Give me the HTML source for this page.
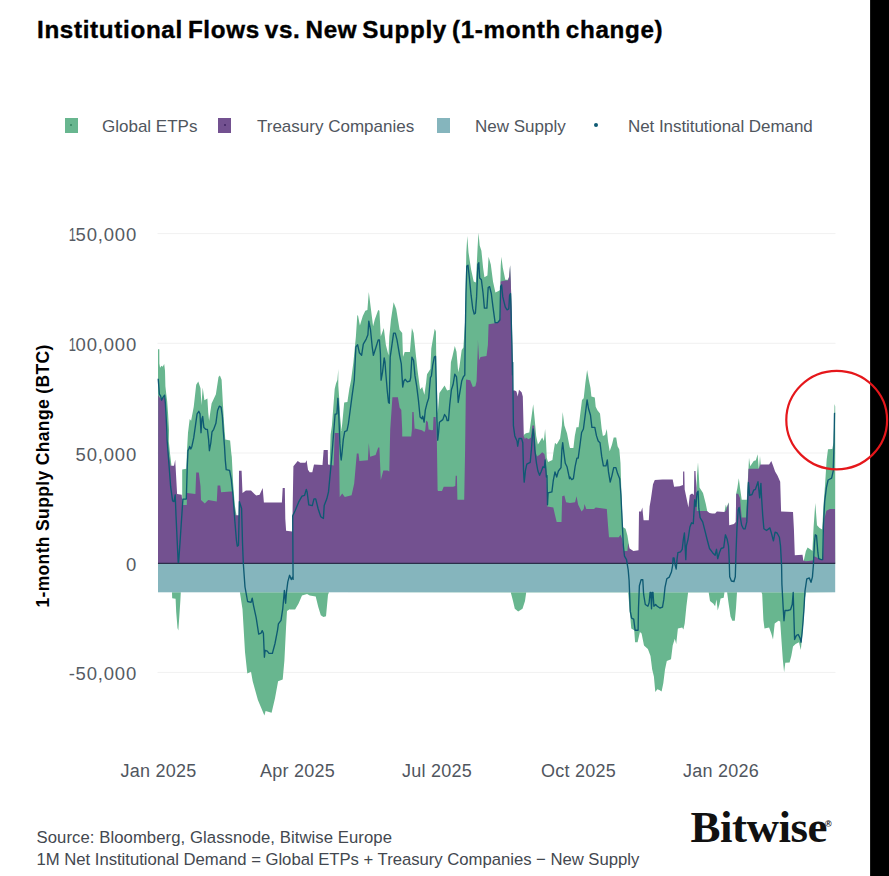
<!DOCTYPE html>
<html><head><meta charset="utf-8"><title>Institutional Flows vs. New Supply</title>
<style>
html,body{margin:0;padding:0;background:#fff;}
body{width:889px;height:876px;position:relative;overflow:hidden;font-family:"Liberation Sans",sans-serif;}
.t{position:absolute;white-space:nowrap;line-height:1;}
.title{left:37px;top:17.7px;font-size:24.2px;font-weight:bold;color:#000;letter-spacing:0.68px;word-spacing:-2.4px;-webkit-text-stroke:0.4px #000;}
.leg{font-size:17px;color:#50565e;top:117.5px;letter-spacing:0px;}
.sw{position:absolute;top:118px;width:13px;height:15px;}
.yl{font-size:18.5px;color:#555b63;text-align:right;width:120px;left:17.0px;letter-spacing:0.8px;}
.yl span{display:inline-block;transform:scaleX(0.7);margin-left:-2px;margin-right:-2.2px;}
.xl{font-size:18px;color:#50565e;top:762px;width:120px;text-align:center;letter-spacing:0.25px;}
.src{font-size:16.7px;color:#43484f;left:36.5px;letter-spacing:0px;}
.ytitle{left:43.8px;top:475.5px;font-size:17.5px;font-weight:bold;color:#000;transform:translate(-50%,-50%) rotate(-90deg);letter-spacing:0.35px;}
.logo{left:690.5px;top:804.8px;font-family:"Liberation Serif",serif;font-weight:bold;font-size:45px;color:#111;letter-spacing:-0.5px;}
.reg{left:825px;top:819.5px;font-size:9px;color:#111;font-weight:bold;}
</style></head><body>
<svg width="889" height="876" viewBox="0 0 889 876" style="position:absolute;left:0;top:0">
<line x1="157.5" y1="233.6" x2="835.5" y2="233.6" stroke="#f1f1f1" stroke-width="1"/>
<line x1="157.5" y1="343.3" x2="835.5" y2="343.3" stroke="#f1f1f1" stroke-width="1"/>
<line x1="157.5" y1="453.0" x2="835.5" y2="453.0" stroke="#f1f1f1" stroke-width="1"/>
<line x1="157.5" y1="563.3" x2="835.5" y2="563.3" stroke="#f1f1f1" stroke-width="1"/>
<line x1="157.5" y1="672.4" x2="835.5" y2="672.4" stroke="#f1f1f1" stroke-width="1"/>
<polygon points="158.0,563.3 158.0,349.2 159.3,349.2 159.4,363.6 160.1,367.7 161.4,365.7 162.7,366.7 164.2,364.1 165.0,370.8 165.4,386.2 166.2,393.4 167.2,401.6 168.1,414.0 169.0,430.0 168.8,441.3 170.0,453.3 171.4,465.3 171.4,563.3" fill="#68b68f"/>
<polygon points="182.2,563.3 182.2,469.6 186.3,468.7 187.0,449.9 188.0,432.7 189.7,419.0 191.1,420.8 193.7,407.1 196.2,384.8 198.3,381.4 200.5,388.2 201.4,405.3 202.7,387.4 204.4,400.2 207.4,398.5 208.2,412.2 209.1,420.8 210.3,412.2 211.6,403.6 215.9,394.2 218.5,377.1 219.9,375.4 221.6,379.7 222.8,401.9 224.0,422.5 225.3,439.6 230.1,440.4 231.3,453.3 231.8,457.1 233.1,482.8 234.8,505.1 236.5,515.3 236.5,563.3" fill="#68b68f"/>
<polygon points="329.7,563.3 329.7,464.5 330.6,434.8 331.9,425.7 334.7,389.1 336.0,383.6 337.4,380.0 338.3,369.0 338.3,385.5 339.2,398.3 340.1,416.5 341.5,431.1 342.9,416.5 344.2,402.4 347.4,401.9 349.3,389.1 351.1,380.0 353.4,362.2 355.9,336.5 357.3,315.1 358.1,316.0 359.9,325.4 362.8,316.0 365.3,310.8 367.4,310.0 368.8,292.0 370.5,305.7 373.1,326.2 374.8,319.4 378.2,310.0 379.4,310.8 380.8,336.5 383.8,327.9 385.9,345.1 388.5,355.3 389.3,336.5 391.0,319.4 393.6,302.3 396.2,309.1 399.6,329.7 402.2,333.1 403.0,357.1 404.7,351.9 409.9,351.9 411.9,327.9 413.6,333.1 415.9,355.3 417.6,370.8 420.1,389.6 422.2,387.0 424.4,394.7 426.1,382.7 427.0,374.2 430.4,369.0 431.3,348.5 434.7,328.8 435.9,331.4 436.5,374.2 437.2,394.8 437.7,413.6 439.4,393.1 444.6,385.4 447.1,390.5 449.7,389.7 450.9,362.3 452.3,357.1 454.8,346.0 456.5,351.7 458.2,372.3 459.4,367.1 461.7,350.0 463.4,347.4 465.1,320.9 466.3,252.4 467.3,236.1 468.5,252.4 471.1,269.5 473.7,281.5 475.9,282.4 477.6,247.3 478.5,232.7 479.7,245.6 481.4,250.7 483.1,267.8 484.4,277.2 487.4,275.5 488.6,256.7 490.8,264.4 493.0,281.5 495.4,292.6 498.5,290.9 500.2,290.1 500.7,266.1 501.4,256.7 502.8,267.8 505.3,279.8 507.9,279.8 509.1,276.4 510.1,265.2 510.8,281.5 511.9,319.2 512.5,375.0 512.5,563.3" fill="#68b68f"/>
<polygon points="523.5,563.3 523.5,435.9 523.8,435.0 525.9,433.3 529.3,432.5 531.0,420.5 533.2,404.2 534.8,420.5 536.2,435.9 537.9,444.4 539.6,441.9 542.2,437.6 543.9,441.0 545.1,429.0 546.1,442.7 546.8,458.1 548.1,461.9 552.4,459.9 553.6,451.3 555.0,442.7 556.7,444.4 560.1,438.5 561.9,425.6 562.7,411.9 564.4,425.6 567.0,433.3 569.5,446.2 570.0,447.9 573.4,447.9 574.8,435.9 576.5,427.3 578.6,427.3 580.3,413.6 582.0,399.9 583.7,398.2 585.4,382.8 587.1,370.0 588.8,379.4 590.5,387.9 591.4,396.5 594.8,397.4 595.7,406.8 597.4,410.2 600.0,413.6 601.7,429.0 602.9,435.9 605.1,435.0 606.8,429.0 608.0,441.0 609.7,451.3 612.0,444.4 613.7,437.6 616.2,437.6 617.6,446.2 619.3,449.6 620.5,463.3 621.4,492.8 622.7,527.0 625.6,528.8 627.4,535.6 629.1,545.9 629.1,563.3" fill="#68b68f"/>
<polygon points="696.4,563.3 696.4,492.8 697.0,475.7 698.0,462.3 698.8,475.7 699.5,487.5 703.0,493.0 705.8,503.9 707.2,511.0 707.2,563.3" fill="#68b68f"/>
<polygon points="724.5,563.3 724.5,512.0 725.8,504.8 726.8,507.4 728.5,502.2 728.8,504.8 728.8,563.3" fill="#68b68f"/>
<polygon points="736.2,563.3 736.2,493.7 737.4,487.7 738.8,478.2 740.0,487.7 741.7,499.7 746.8,499.7 747.7,482.5 748.5,468.8 749.0,457.7 750.2,466.3 753.7,461.1 755.9,460.3 757.6,454.3 758.8,468.8 759.3,464.6 760.0,456.0 760.7,464.6 760.7,563.3" fill="#68b68f"/>
<polygon points="803.8,563.3 803.8,560.5 805.9,551.0 807.6,547.6 810.2,549.3 812.4,551.0 813.6,527.0 815.3,503.1 817.0,525.3 819.6,527.9 822.2,529.6 823.4,506.5 825.1,484.2 826.4,463.7 826.7,459.6 828.0,449.3 832.3,449.0 833.5,442.5 834.2,421.9 834.5,403.9 835.2,406.5 835.2,563.3" fill="#68b68f"/>
<polygon points="158.0,592.3 158.0,592.3 172.0,592.3 172.2,598.3 175.6,598.8 176.2,612.0 177.5,628.0 178.3,630.6 179.2,618.0 180.4,600.0 180.8,592.3 239.9,592.3 242.5,609.2 245.0,652.0 247.3,673.5 251.0,671.8 252.7,681.2 257.9,700.0 264.4,715.4 265.6,711.1 271.6,712.8 275.0,698.3 278.1,681.2 282.7,679.5 284.4,660.6 286.1,626.4 287.0,611.0 289.6,609.2 290.0,609.4 295.1,609.4 298.6,603.4 302.0,595.6 307.1,593.9 309.7,595.6 315.7,596.5 318.2,606.8 320.8,615.3 323.4,617.0 326.0,616.2 328.0,594.8 329.0,592.3 510.8,592.5 513.0,601.1 514.8,608.8 518.2,611.4 522.5,608.8 525.0,601.1 526.2,592.5 628.2,592.5 629.6,609.7 631.3,628.5 634.2,630.2 635.1,642.2 637.6,642.2 639.9,631.9 641.6,633.6 644.0,645.6 647.9,649.0 650.5,655.9 652.2,669.6 653.9,676.4 655.3,691.9 657.3,689.3 659.4,690.1 661.6,691.5 663.3,683.3 665.0,669.6 666.8,661.0 671.0,659.3 672.7,645.6 674.8,638.8 676.2,643.9 677.9,628.5 682.2,627.6 683.4,629.4 684.7,623.4 686.4,606.2 688.1,592.5 708.7,592.5 710.0,601.1 713.4,603.7 715.1,606.2 716.5,599.4 717.7,610.5 719.4,604.5 720.6,598.5 723.7,597.7 724.5,592.3 727.1,592.3 728.5,602.8 730.5,616.5 732.3,620.8 734.8,620.8 736.0,608.0 737.0,592.3 761.4,592.3 762.2,594.2 763.4,619.9 764.5,628.5 769.1,627.6 771.3,633.6 773.0,639.6 774.7,623.4 778.5,620.8 780.2,621.6 781.6,642.2 782.8,659.3 784.1,672.2 785.3,662.7 789.6,662.4 791.3,655.9 793.0,646.5 795.6,643.9 799.0,642.2 800.8,649.9 802.5,633.6 803.8,616.5 805.0,597.7 805.9,592.5 835.0,592.3 835.2,592.3" fill="#68b68f"/>
<polygon points="158.0,563.3 158.2,395.1 160.3,398.5 163.7,397.6 165.1,398.5 165.9,419.0 167.1,443.0 168.0,450.3 170.6,465.7 174.0,465.7 175.2,459.7 176.0,474.2 177.1,493.9 181.7,494.8 182.5,505.1 186.8,505.1 187.0,493.1 195.4,493.9 196.2,472.5 198.8,472.5 200.5,486.2 201.0,499.9 204.8,503.4 208.2,499.9 216.8,501.6 217.6,485.4 220.2,485.4 221.1,492.2 230.5,491.4 232.2,491.4 233.9,505.1 235.6,515.3 238.7,515.3 239.0,470.8 241.6,470.8 242.5,493.1 245.9,490.5 251.0,490.5 256.2,495.6 259.6,494.8 262.7,487.9 263.9,502.5 281.9,502.5 282.7,487.9 284.8,487.9 285.3,518.8 286.1,530.8 292.1,531.6 292.2,532.2 293.4,466.2 297.7,461.1 300.3,462.8 305.4,462.8 306.6,460.2 308.0,469.7 309.7,472.2 312.3,472.2 314.0,464.5 322.5,464.9 323.6,450.8 323.7,449.9 327.8,449.9 328.0,464.5 333.7,465.4 334.7,433.0 338.8,433.0 339.7,497.1 342.2,493.6 344.8,497.1 351.6,495.3 354.2,483.4 356.8,453.4 358.5,453.4 359.4,461.1 367.9,460.2 368.8,443.1 370.1,456.8 375.6,455.1 378.2,447.4 379.4,447.4 380.8,479.9 383.3,470.5 387.6,470.5 389.3,471.4 390.2,429.9 392.4,397.3 397.9,397.3 399.6,407.6 401.3,410.1 402.2,430.0 402.2,436.6 411.2,436.6 411.9,429.9 412.3,411.9 413.6,411.9 414.7,430.0 415.0,428.6 421.9,430.3 424.4,432.0 425.3,429.9 426.1,420.4 427.8,422.1 428.7,430.0 429.0,429.4 431.8,430.3 433.0,429.9 433.5,417.0 435.6,417.0 436.4,430.0 436.8,437.1 437.6,490.2 438.2,491.1 442.0,491.1 443.7,486.8 453.1,486.8 455.3,486.0 455.7,475.7 456.9,475.7 457.4,499.7 464.2,499.7 465.1,450.0 466.0,379.4 470.2,380.2 472.8,387.1 475.4,386.2 476.6,381.1 477.9,345.1 477.9,339.7 479.1,360.3 480.5,356.9 486.5,356.0 487.9,344.9 488.6,324.3 493.4,323.5 497.6,322.6 500.2,318.3 500.7,281.5 505.3,280.6 507.9,280.6 509.1,277.2 510.1,265.2 510.8,281.5 511.9,319.2 512.5,375.0 512.7,362.3 513.0,390.5 514.8,390.5 516.5,391.4 517.7,396.5 519.0,389.7 521.6,392.2 522.8,396.5 523.8,435.9 525.0,439.3 525.9,437.6 528.5,439.3 531.0,437.6 532.4,425.6 534.1,425.6 534.8,435.9 535.8,453.0 537.0,456.4 539.6,454.7 542.2,452.2 544.4,453.9 545.6,459.9 546.4,470.1 547.3,506.5 553.3,507.4 555.0,515.1 556.7,521.9 561.5,521.9 562.2,496.2 564.4,495.4 566.1,502.2 570.0,503.1 575.1,502.2 576.5,496.2 578.2,504.8 581.6,511.6 583.7,509.1 584.5,503.9 586.3,509.1 594.0,509.1 595.7,507.4 606.8,509.1 608.0,525.3 609.0,537.3 618.8,537.3 620.5,534.8 622.2,539.0 623.9,551.0 627.4,551.0 628.2,543.3 629.6,548.5 633.4,551.0 638.5,550.2 639.0,511.6 641.1,511.6 642.3,507.4 643.6,520.2 648.8,520.2 649.6,506.5 650.8,499.7 653.0,484.2 654.8,480.0 662.5,479.4 672.7,479.4 674.1,486.8 679.6,486.3 683.0,485.1 683.1,471.6 684.3,471.6 684.7,489.4 687.5,503.1 688.4,507.5 689.8,494.9 692.1,493.5 693.9,494.9 694.3,471.1 695.5,471.1 695.9,479.3 696.6,487.5 696.9,511.1 707.0,511.1 709.5,513.0 712.1,513.4 715.1,513.4 716.9,511.6 724.5,512.0 726.3,509.9 728.5,503.1 729.2,525.3 734.0,524.0 735.7,521.9 736.2,493.7 738.2,493.7 740.0,497.9 741.7,517.6 746.0,517.6 747.3,496.2 748.5,468.8 758.8,468.8 760.5,464.6 769.1,464.6 771.3,461.1 773.0,465.4 775.1,471.4 777.6,475.7 780.2,481.7 781.1,511.6 793.0,512.0 793.9,528.8 794.8,555.3 802.5,554.8 803.3,560.5 805.9,561.3 812.7,560.5 814.1,556.2 821.3,559.6 823.0,559.6 824.4,518.5 826.4,510.8 829.9,509.1 835.0,509.1 835.2,563.3" fill="#735190"/>
<rect x="158.0" y="563.3" width="677.2" height="29.0" fill="#85b5bd"/>
<line x1="158.0" y1="563.3" x2="835.2" y2="563.3" stroke="#2b2f4a" stroke-width="1.2"/>
<polyline points="158.2,378.8 159.4,394.2 160.6,395.9 161.6,400.2 162.8,397.6 164.6,395.1 165.4,403.6 166.6,425.9 167.1,440.0 168.8,462.3 170.6,486.2 172.6,500.8 174.0,501.6 175.2,494.8 176.0,515.3 177.1,539.3 178.2,562.4 178.6,562.4 180.0,542.7 181.7,517.0 182.9,499.1 186.3,499.1 187.3,465.7 188.0,450.3 188.5,449.9 189.7,446.4 190.8,449.0 191.9,446.4 193.7,437.9 195.4,425.9 197.1,413.9 198.8,411.3 200.0,413.9 201.0,432.7 201.9,419.0 202.7,416.5 203.9,427.6 205.7,429.3 207.4,429.3 208.6,439.6 209.4,450.7 210.8,443.0 212.0,431.9 213.7,429.3 215.9,423.3 217.6,410.5 219.3,406.2 221.1,407.1 222.3,415.6 223.3,431.0 224.5,446.4 225.3,460.1 226.2,469.6 229.6,470.4 231.3,479.4 233.1,496.5 234.8,520.5 236.5,541.0 237.3,546.2 238.5,545.3 239.4,501.6 241.6,508.5 242.5,542.7 243.3,563.3 245.0,587.0 247.6,601.5 251.0,602.4 252.2,598.1 253.6,605.8 256.2,617.8 258.7,634.1 261.0,633.2 262.2,630.6 263.4,633.2 264.4,657.2 265.1,650.3 267.3,651.2 269.0,653.4 272.4,653.4 275.0,643.5 277.6,629.8 278.4,623.8 281.0,620.4 282.7,609.2 284.4,590.4 285.6,603.2 286.5,592.1 287.8,581.9 289.6,575.3 291.3,579.5 292.5,577.0 293.1,579.4 292.7,515.9 295.1,510.8 298.6,502.2 302.0,496.2 304.6,495.3 306.3,489.4 307.1,491.9 308.8,504.8 312.3,505.6 314.0,498.8 315.7,498.8 318.2,509.0 320.8,516.8 323.4,518.5 324.2,505.6 326.8,498.8 328.5,491.9 331.5,460.0 332.8,443.9 334.2,425.7 335.1,414.2 336.9,413.8 337.9,398.3 338.5,407.4 339.2,425.7 339.9,443.9 340.6,454.9 341.2,460.0 342.0,453.1 343.3,439.4 344.7,431.6 347.0,430.7 348.4,423.8 350.2,410.1 352.0,396.4 354.3,380.0 355.9,346.8 357.6,344.7 359.4,352.8 361.6,355.3 363.3,344.2 366.2,339.1 367.9,334.8 368.8,321.1 370.5,329.7 372.2,346.8 373.4,355.3 375.6,348.5 378.2,339.9 379.4,339.9 380.4,353.6 381.1,380.2 382.5,372.5 384.2,357.9 385.0,362.2 385.9,374.2 387.3,391.3 388.5,402.4 389.3,403.3 390.2,357.1 391.9,345.1 393.6,333.1 395.3,333.1 397.0,339.9 399.6,355.3 401.3,363.9 402.7,387.0 403.9,381.0 405.1,379.3 407.3,381.9 409.9,381.0 410.7,377.6 411.9,357.1 413.6,360.5 415.0,375.9 416.7,386.2 418.4,399.9 420.1,417.0 421.9,418.7 422.7,416.1 424.1,422.1 425.3,410.1 427.0,403.3 428.7,398.1 430.4,377.6 431.4,376.0 432.6,365.7 434.3,357.1 435.5,356.3 436.2,382.8 436.9,418.8 437.7,440.2 438.6,432.5 439.4,422.2 442.8,419.6 444.6,414.5 446.3,417.1 447.1,420.5 448.5,420.5 449.7,405.1 451.4,389.7 453.1,384.5 454.8,374.2 456.5,376.8 457.4,387.9 458.2,402.5 460.0,391.4 461.7,381.1 463.4,376.8 464.8,375.1 465.1,344.9 466.0,293.5 466.8,266.1 468.0,265.2 469.4,278.1 471.1,295.2 472.8,308.9 474.2,314.0 475.4,313.2 476.6,296.9 477.9,264.4 478.8,262.7 479.7,278.1 481.4,279.8 483.1,293.5 484.4,308.1 486.9,308.1 488.2,287.5 489.6,286.6 491.3,293.5 493.0,307.2 495.1,322.6 497.6,322.6 499.9,320.0 500.6,286.6 501.6,284.9 502.8,296.9 505.3,307.2 507.1,309.8 508.8,308.9 509.6,295.2 510.5,293.5 511.0,310.6 511.9,344.9 512.5,375.0 512.7,362.3 513.0,391.4 513.4,425.6 514.8,435.9 517.0,441.0 517.7,446.2 519.0,438.5 521.6,438.5 522.8,442.7 523.5,470.1 524.2,482.1 525.5,470.1 526.8,464.1 530.2,462.4 531.4,449.6 532.4,435.9 533.2,429.0 534.1,437.6 534.8,449.6 536.5,463.3 537.9,471.0 539.6,475.3 541.0,471.9 543.0,466.7 544.4,467.6 545.1,459.9 546.4,477.0 547.0,475.7 547.5,504.8 548.1,492.8 551.9,491.9 553.3,480.4 555.0,471.9 556.7,477.0 558.4,471.0 561.0,467.6 561.9,449.6 562.7,442.7 563.9,453.0 565.3,463.3 567.0,466.7 569.5,478.7 570.0,477.0 571.7,479.6 573.4,478.7 575.1,466.7 576.9,458.1 578.2,458.1 580.3,442.7 581.6,432.5 583.4,429.0 585.4,413.6 587.1,399.9 588.5,408.5 590.5,415.3 591.9,427.3 594.8,427.3 596.5,435.9 598.2,441.0 600.0,442.7 601.7,456.4 603.4,465.9 606.0,465.9 607.3,459.9 608.5,471.9 610.2,482.1 612.0,475.3 613.7,467.6 615.9,467.6 617.6,473.6 619.7,478.7 620.9,494.5 622.2,521.9 623.4,545.9 624.5,556.2 626.5,559.6 628.2,569.9 629.1,580.5 630.3,611.4 631.6,618.2 633.7,619.1 635.1,630.2 638.1,630.2 638.5,608.0 639.4,585.7 641.1,579.7 642.8,579.7 643.6,594.2 645.3,604.5 647.9,606.2 649.1,602.8 650.1,592.5 650.8,592.5 651.5,608.8 652.2,592.5 653.0,592.5 653.9,606.2 655.6,604.5 657.3,606.2 659.9,608.0 662.5,607.1 663.8,599.4 665.0,587.4 666.8,578.8 669.3,577.1 671.4,572.0 672.7,565.1 673.1,557.9 674.1,557.9 674.8,563.9 676.2,569.0 677.0,559.6 677.9,552.7 680.5,551.9 682.2,549.3 683.4,539.0 684.4,533.0 685.1,545.9 685.8,559.6 686.4,545.9 688.1,539.0 689.9,527.0 691.6,522.8 693.3,523.6 694.7,499.7 695.9,506.5 697.0,492.8 698.1,491.1 698.8,508.2 700.1,517.6 702.7,521.9 705.3,532.2 707.0,539.0 709.5,548.5 712.6,552.7 715.1,555.3 716.5,549.3 717.7,558.7 719.4,552.7 721.1,548.5 723.7,547.6 725.4,534.8 727.1,539.0 728.5,545.9 729.2,559.6 729.7,576.7 731.4,581.0 734.0,581.5 735.3,576.7 736.0,552.7 737.0,527.0 738.2,509.9 739.1,507.4 740.5,518.5 741.7,525.3 743.4,528.8 745.1,528.8 746.8,521.9 747.7,501.4 748.5,482.5 749.7,495.4 752.0,494.5 753.7,490.2 755.4,489.4 758.0,481.7 759.7,497.9 760.9,483.4 761.7,499.7 762.7,515.1 763.9,528.8 766.5,530.5 769.9,527.9 771.6,533.9 773.4,540.8 775.1,532.2 777.1,533.0 779.4,537.3 780.5,545.9 781.6,566.4 781.9,584.0 783.3,609.7 784.0,620.8 785.0,610.5 787.9,610.5 790.5,609.7 792.2,604.5 793.2,592.5 793.9,616.5 794.6,639.6 796.5,635.3 798.2,634.5 799.9,637.9 801.1,642.2 802.5,628.5 803.8,611.4 805.0,590.8 806.8,578.8 809.3,578.0 811.0,582.3 812.4,577.1 813.4,565.1 813.6,559.6 814.5,542.5 815.3,534.8 816.5,535.6 817.9,552.7 818.7,558.7 821.3,559.6 822.7,559.6 823.4,527.0 824.7,501.4 826.4,487.7 828.1,480.0 831.6,478.2 833.3,470.6 833.2,469.9 834.0,445.9 834.5,413.4 835.2,413.4" fill="none" stroke="#0e5a73" stroke-width="1.35" stroke-linejoin="round"/>
<rect x="870.1" y="0" width="18.9" height="876" fill="#000"/>
<ellipse cx="836.7" cy="420.1" rx="50.4" ry="49.2" fill="none" stroke="#e5171b" stroke-width="2.2"/>
</svg>
<div class="t title">Institutional Flows vs. New Supply (1-month change)</div>
<div class="sw" style="left:65px;background:#68b68f"></div><div class="sw" style="left:70px;top:124px;width:2px;height:2px;background:#3f8f6a"></div>
<div class="t leg" style="left:102px">Global ETPs</div>
<div class="sw" style="left:218px;background:#735190"></div><div class="sw" style="left:224px;top:124px;width:2px;height:2px;background:#4d2f6e"></div>
<div class="t leg" style="left:257px">Treasury Companies</div>
<div class="sw" style="left:437px;background:#85b5bd"></div>
<div class="t leg" style="left:475px">New Supply</div>
<div class="sw" style="left:594px;top:123px;width:4px;height:4px;border-radius:50%;background:#0e5a73"></div>
<div class="t leg" style="left:628px;letter-spacing:-0.06px">Net Institutional Demand</div>
<div class="t yl" style="top:226.3px"><span>1</span>50,000</div>
<div class="t yl" style="top:336.0px"><span>1</span>00,000</div>
<div class="t yl" style="top:445.7px">50,000</div>
<div class="t yl" style="top:556.0px">0</div>
<div class="t yl" style="top:665.1px">-50,000</div>
<div class="t xl" style="left:98.5px">Jan 2025</div>
<div class="t xl" style="left:237.5px">Apr 2025</div>
<div class="t xl" style="left:377px">Jul 2025</div>
<div class="t xl" style="left:518.5px">Oct 2025</div>
<div class="t xl" style="left:661px">Jan 2026</div>
<div class="t ytitle">1-month Supply Change (BTC)</div>
<div class="t src" style="top:829.8px;letter-spacing:0.07px">Source: Bloomberg, Glassnode, Bitwise Europe</div>
<div class="t src" style="top:851.8px;letter-spacing:-0.02px">1M Net Institutional Demand = Global ETPs + Treasury Companies − New Supply</div>
<div class="t logo">Bitwise</div><div class="t reg">®</div>
</body></html>
